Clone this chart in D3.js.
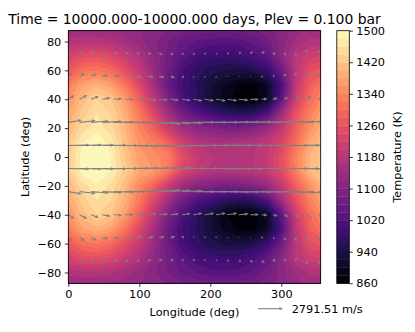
<!DOCTYPE html>
<html>
<head>
<meta charset="utf-8">
<script src="https://cdn.jsdelivr.net/npm/d3@7"></script>
<style>
  html, body { margin: 0; padding: 0; background: #fff; }
  text { font-family: "DejaVu Sans", sans-serif; fill: #000; }
</style>
</head>
<body>
<div id="chart"></div>
<script>
// temperature grid (K)
var lons = [0, 20, 40, 60, 80, 100, 120, 140, 160, 180, 200, 220, 240, 260, 280, 300, 320, 340, 360];
var lats = [90, 80, 70, 60, 50, 40, 30, 20, 10, 0, -10, -20, -30, -40, -50, -60, -70, -80, -90];
var temps = [
  [1130, 1130, 1130, 1130, 1125, 1120, 1110, 1100, 1090, 1085, 1080, 1080, 1080, 1085, 1095, 1105, 1125, 1145, 1130],
  [1170, 1175, 1175, 1165, 1150, 1130, 1105, 1080, 1055, 1040, 1030, 1025, 1030, 1045, 1070, 1110, 1145, 1165, 1170],
  [1225, 1250, 1255, 1240, 1205, 1165, 1120, 1075, 1035, 1005, 990, 985, 990, 1010, 1040, 1110, 1180, 1215, 1225],
  [1270, 1310, 1320, 1300, 1255, 1200, 1135, 1065, 1005, 970, 950, 940, 935, 945, 980, 1060, 1180, 1255, 1270],
  [1325, 1375, 1395, 1370, 1315, 1240, 1150, 1060, 1000, 960, 925, 900, 880, 870, 900, 1010, 1190, 1280, 1325],
  [1350, 1410, 1440, 1420, 1365, 1285, 1190, 1095, 1020, 965, 925, 890, 870, 865, 905, 1040, 1210, 1300, 1350],
  [1380, 1430, 1460, 1440, 1390, 1320, 1240, 1150, 1075, 1030, 1000, 975, 960, 970, 1020, 1140, 1260, 1330, 1380],
  [1400, 1450, 1470, 1450, 1400, 1335, 1285, 1210, 1150, 1115, 1100, 1085, 1085, 1100, 1130, 1190, 1280, 1350, 1400],
  [1420, 1480, 1500, 1470, 1410, 1355, 1325, 1290, 1220, 1175, 1165, 1160, 1165, 1175, 1190, 1230, 1300, 1380, 1420],
  [1430, 1490, 1510, 1480, 1420, 1370, 1350, 1330, 1255, 1205, 1185, 1175, 1170, 1180, 1200, 1250, 1330, 1400, 1430],
  [1430, 1490, 1510, 1480, 1430, 1380, 1360, 1320, 1235, 1195, 1175, 1170, 1170, 1180, 1200, 1245, 1325, 1400, 1430],
  [1400, 1450, 1475, 1455, 1405, 1340, 1285, 1210, 1140, 1105, 1095, 1080, 1085, 1100, 1130, 1190, 1280, 1350, 1400],
  [1380, 1430, 1460, 1440, 1390, 1320, 1240, 1150, 1070, 1025, 995, 970, 955, 970, 1020, 1140, 1255, 1330, 1380],
  [1350, 1410, 1440, 1420, 1365, 1285, 1190, 1095, 1020, 965, 925, 885, 865, 862, 905, 1040, 1205, 1300, 1350],
  [1325, 1375, 1395, 1370, 1315, 1240, 1150, 1060, 1000, 960, 925, 895, 875, 872, 905, 1015, 1185, 1280, 1325],
  [1270, 1310, 1320, 1300, 1255, 1200, 1135, 1065, 1005, 970, 950, 935, 935, 945, 985, 1065, 1180, 1255, 1270],
  [1225, 1250, 1255, 1240, 1205, 1165, 1120, 1075, 1035, 1005, 990, 985, 990, 1010, 1045, 1110, 1180, 1215, 1225],
  [1170, 1175, 1175, 1165, 1150, 1130, 1105, 1080, 1055, 1040, 1030, 1025, 1030, 1045, 1070, 1110, 1145, 1165, 1170],
  [1130, 1130, 1130, 1130, 1125, 1120, 1110, 1100, 1090, 1085, 1080, 1080, 1080, 1085, 1095, 1105, 1125, 1145, 1130]
];

// wind vectors (m/s), one row per latitude
var windLons = [0, 16, 32, 48, 64, 80, 96, 112, 128, 144, 160, 176, 192, 208, 224, 240, 256, 272, 288, 304, 320, 336, 352];
var windLats = [88, 72, 56, 40, 24, 8, -8, -24, -40, -56, -72, -88];
var windU = [
  [250, 280, 280, 260, 240, 220, 200, 180, 160, 140, 130, 120, 110, 110, 100, 100, 100, 110, 120, 140, 160, 190, 220],
  [250, 380, 440, 450, 440, 430, 410, 400, 380, 340, 220, 150, 100, 150, 210, 280, 340, 380, 340, 220, 80, 30, 150],
  [450, 600, 650, 670, 690, 690, 690, 680, 640, 520, 240, 80, 40, 30, 30, 40, 60, 160, 220, 180, 80, 40, 240],
  [700, 850, 880, 920, 950, 980, 1000, 1000, 1000, 950, 1000, 1050, 1080, 1120, 1120, 1120, 1000, 700, 580, 480, 480, 540, 620],
  [1500, 1800, 2000, 2200, 2300, 2400, 2400, 2400, 2400, 2200, 2300, 2400, 2500, 2500, 2500, 2400, 2400, 2400, 2400, 2300, 2200, 2000, 1800],
  [2400, 2500, 2600, 2700, 2700, 2700, 2600, 2500, 2400, 2500, 2600, 2700, 2700, 2700, 2700, 2700, 2700, 2700, 2700, 2700, 2700, 2600, 2500],
  [2400, 2500, 2600, 2700, 2700, 2700, 2600, 2500, 2400, 2500, 2600, 2700, 2700, 2700, 2700, 2700, 2700, 2700, 2700, 2700, 2700, 2600, 2500],
  [1500, 1800, 2000, 2200, 2300, 2400, 2400, 2400, 2400, 2200, 2300, 2400, 2500, 2500, 2500, 2400, 2400, 2400, 2400, 2300, 2200, 2000, 1800],
  [700, 850, 880, 920, 950, 980, 1000, 1000, 1000, 950, 1000, 1050, 1080, 1120, 1120, 1120, 1000, 700, 580, 480, 480, 540, 620],
  [450, 600, 650, 670, 690, 690, 690, 680, 640, 520, 240, 80, 40, 30, 30, 40, 60, 160, 220, 180, 80, 40, 240],
  [250, 380, 440, 450, 440, 430, 410, 400, 380, 340, 220, 150, 100, 150, 210, 280, 340, 380, 340, 220, 80, 30, 150],
  [250, 280, 280, 260, 240, 220, 200, 180, 160, 140, 130, 120, 110, 110, 100, 100, 100, 110, 120, 140, 160, 190, 220]
];
var windV = [
  [60, 80, 60, 40, 20, 0, -20, -40, -60, -80, -80, -100, -100, -100, -80, -60, -40, 0, 40, 60, 80, 80, 70],
  [200, 170, 80, 40, 0, -40, -80, -130, -190, -190, -200, -220, -200, -130, -80, 0, 100, 150, -150, -250, -360, 400, 350],
  [380, 340, 260, 100, 40, -40, -80, -120, -160, -180, -170, -160, -160, -160, -100, -50, -20, -100, 70, 260, 400, 440, 400],
  [450, 470, 340, 170, 60, 0, -70, -100, -90, -110, -130, -180, -180, -180, -160, -110, -30, 50, 140, 230, 320, 360, 420],
  [250, 200, 150, 100, 50, 0, -50, -100, -200, -150, -100, 0, 0, 0, 50, 50, 50, 50, 50, 80, 100, 150, 200],
  [50, 60, 50, 30, 0, -20, -50, -80, -100, -80, -30, 0, 0, 20, 30, 30, 0, 0, 0, 0, 20, 40, 50],
  [-50, -60, -50, -30, 0, 20, 50, 80, 100, 80, 30, 0, 0, -20, -30, -30, 0, 0, 0, 0, -20, -40, -50],
  [-250, -200, -150, -100, -50, 0, 50, 100, 200, 150, 100, 0, 0, 0, -50, -50, -50, -50, -50, -80, -100, -150, -200],
  [-450, -470, -340, -170, -60, 0, 70, 100, 90, 110, 130, 180, 180, 180, 160, 110, 30, -50, -140, -230, -320, -360, -420],
  [-380, -340, -260, -100, -40, 40, 80, 120, 160, 180, 170, 160, 160, 160, 100, 50, 20, 100, -70, -260, -400, -440, -400],
  [-200, -170, -80, -40, 0, 40, 80, 130, 190, 190, 200, 220, 200, 130, 80, 0, -100, -150, 150, 250, 360, -400, -350],
  [-60, -80, -60, -40, -20, 0, 20, 40, 60, 80, 80, 100, 100, 100, 80, 60, 40, 0, -40, -60, -80, -80, -70]
];

var xTicks = [0, 100, 200, 300];
var yTicks = [-80, -60, -40, -20, 0, 20, 40, 60, 80];
var cbTicks = [860, 940, 1020, 1100, 1180, 1260, 1340, 1420, 1500];
var levels = d3.range(860, 1500, 20);
var keySpeed = 2791.51;

var width = 415, height = 332;
var margin = { top: 30.7, right: 94.3, bottom: 48.7, left: 68.3 };
var fontSize = "11.3px";

var svg = d3.select("#chart").append("svg")
  .attr("width", width)
  .attr("height", height)
  .style("display", "block");

var x = d3.scaleLinear().domain([0, 355.5]).range([margin.left, width - margin.right]);
var y = d3.scaleLinear().domain([-87.5, 87.5]).range([height - margin.bottom, margin.top]);
var cbY = d3.scaleLinear().domain([860, 1500]).range([height - margin.bottom, margin.top]);
var color = function (t) { return d3.interpolateMagma((t - 860) / 640); };
// px per m/s, from the length of the reference arrow
var windScale = d3.scaleLinear().domain([0, keySpeed]).range([0, 25]);

svg.append("clipPath").attr("id", "plot").append("rect")
  .attr("x", x.range()[0]).attr("y", y.range()[1])
  .attr("width", x.range()[1] - x.range()[0])
  .attr("height", y.range()[0] - y.range()[1]);

// filled contours
var flat = [];
temps.forEach(function (row) { row.forEach(function (v) { flat.push(v); }); });
var contours = d3.contours().size([lons.length, lats.length]).smooth(true).thresholds(levels)(flat);
var path = d3.geoPath(d3.geoTransform({
  point: function (px, py) {
    this.stream.point(x((px - 0.5) * 20), y(90 - (py - 0.5) * 10));
  }
}));

var map = svg.append("g").attr("clip-path", "url(#plot)");
map.selectAll("path").data(contours).enter().append("path")
  .attr("d", path)
  .attr("fill", function (d) { return color(d.value + 10); })
  .attr("stroke", function (d) { return color(d.value + 10); })
  .attr("stroke-width", 0.3);

// wind arrows
var arrows = [];
windLats.forEach(function (lat, i) {
  windLons.forEach(function (lon, j) {
    arrows.push({ lon: lon, lat: lat, u: windU[i][j], v: windV[i][j] });
  });
});

function drawArrow(g, x0, y0, dx, dy) {
  var len = Math.sqrt(dx * dx + dy * dy);
  if (len < 0.2) return;
  var ux = dx / len, uy = dy / len;
  var head = Math.min(3.6, len * 0.7), hw = 1.6;
  var bx = x0 + dx - ux * head, by = y0 + dy - uy * head;
  g.append("line")
    .attr("x1", x0).attr("y1", y0).attr("x2", bx).attr("y2", by)
    .attr("stroke", "#808080").attr("stroke-width", 1.1);
  g.append("path")
    .attr("d", "M" + (x0 + dx) + "," + (y0 + dy) +
      "L" + (bx - uy * hw) + "," + (by + ux * hw) +
      "L" + (bx + uy * hw) + "," + (by - ux * hw) + "Z")
    .attr("fill", "#808080");
}

var windG = svg.append("g").attr("clip-path", "url(#plot)");
arrows.forEach(function (d) {
  drawArrow(windG, x(d.lon), y(d.lat), windScale(d.u), -windScale(d.v));
});

// axes
var xAxis = svg.append("g")
  .attr("transform", "translate(0," + y.range()[0] + ")")
  .call(d3.axisBottom(x).tickValues(xTicks).tickSize(3.5).tickPadding(3.5).tickFormat(d3.format("d")));
var yAxis = svg.append("g")
  .attr("transform", "translate(" + x.range()[0] + ",0)")
  .call(d3.axisLeft(y).tickValues(yTicks).tickSize(3.5).tickPadding(3.5).tickFormat(function (d) { return d < 0 ? "\u2212" + (-d) : d; }));

svg.append("rect")
  .attr("x", x.range()[0]).attr("y", y.range()[1])
  .attr("width", x.range()[1] - x.range()[0])
  .attr("height", y.range()[0] - y.range()[1])
  .attr("fill", "none").attr("stroke", "#000").attr("stroke-width", 0.8);

// colorbar
var cbLeft = 336.8, cbW = 12.5;
svg.append("g").selectAll("rect").data(levels).enter().append("rect")
  .attr("x", cbLeft)
  .attr("y", function (d) { return cbY(d + 20); })
  .attr("width", cbW)
  .attr("height", function (d) { return cbY(d) - cbY(d + 20) + 0.3; })
  .attr("fill", function (d) { return color(d + 10); });
svg.append("rect")
  .attr("x", cbLeft).attr("y", cbY(1500))
  .attr("width", cbW).attr("height", cbY(860) - cbY(1500))
  .attr("fill", "none").attr("stroke", "#000").attr("stroke-width", 0.8);
var cbAxis = svg.append("g")
  .attr("transform", "translate(" + (cbLeft + cbW) + ",0)")
  .call(d3.axisRight(cbY).tickValues(cbTicks).tickSize(3.5).tickPadding(3.5).tickFormat(d3.format("d")));

[xAxis, yAxis, cbAxis].forEach(function (a) {
  a.select(".domain").remove();
  a.selectAll("line").attr("stroke", "#000").attr("stroke-width", 0.8);
  a.selectAll("text").style("font-size", fontSize).style("font-family", '"DejaVu Sans", sans-serif');
});

// titles
svg.append("text").attr("x", 194.5).attr("y", 24).attr("text-anchor", "middle")
  .style("font-size", "13.9px").text("Time = 10000.000-10000.000 days, Plev = 0.100 bar");
svg.append("text").attr("x", 194.5).attr("y", 316).attr("text-anchor", "middle")
  .style("font-size", fontSize).text("Longitude (deg)");
svg.append("text").attr("transform", "translate(29,157) rotate(-90)").attr("text-anchor", "middle")
  .style("font-size", fontSize).text("Latitude (deg)");
svg.append("text").attr("transform", "translate(401,157) rotate(-90)").attr("text-anchor", "middle")
  .style("font-size", fontSize).text("Temperature (K)");

// reference arrow
drawArrow(svg, 258, 308.7, windScale(keySpeed), 0);
svg.append("text").attr("x", 291.7).attr("y", 313)
  .style("font-size", fontSize).text("2791.51 m/s");
</script>
</body>
</html>
